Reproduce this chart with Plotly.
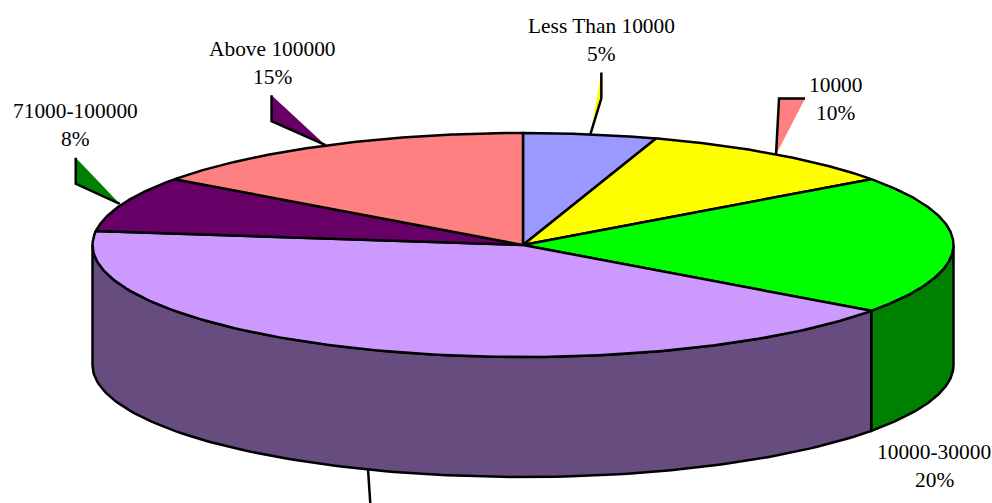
import numpy as np
import plotly.graph_objects as go

categories = ["Less Than 10000", "10000", "10000-30000", "31000-70000", "71000-100000", "Above 100000"]
values = [5, 10, 20, 42, 8, 15]
top_colors = ["#9999FF", "#FFFF00", "#00FF00", "#CC99FF", "#660066", "#FF8080"]
wall_colors = ["#4C4C7F", "#7F7F00", "#008000", "#664C7F", "#330033", "#7F4040"]

W, H = 992, 503
CX, CY, RX, RY, DEPTH = 523, 245, 430.5, 112, 120
LW = 2.5


def rim(deg, drop=0.0):
    t = np.radians(deg)
    return CX + RX * np.sin(t), CY - RY * np.cos(t) + drop


fig = go.Figure()


def poly(xs, ys, fill=None, line=True):
    fig.add_trace(go.Scatter(
        x=list(xs), y=list(ys), mode="lines",
        fill="toself" if fill else None,
        fillcolor=fill,
        line=dict(color="black" if line else "rgba(0,0,0,0)", width=LW if line else 0),
        hoverinfo="skip", showlegend=False))


total = sum(values)
edges = np.concatenate([[0], np.cumsum(values)]) / total * 360

# side walls: the front half of the drum only
for i in range(len(values)):
    a, b = max(edges[i], 90), min(edges[i + 1], 270)
    if a >= b:
        continue
    t = np.linspace(a, b, 120)
    x1, y1 = rim(t)
    x2, y2 = rim(t[::-1], DEPTH)
    poly(np.r_[x1, x2, x1[0]], np.r_[y1, y2, y1[0]], wall_colors[i])

# top sectors
for i in range(len(values)):
    t = np.linspace(edges[i], edges[i + 1], 160)
    x, y = rim(t)
    poly(np.r_[CX, x, CX], np.r_[CY, y, CY], top_colors[i])

# callouts: category index -> (anchor nudge, elbow offset, tip offset, fill, drop)
callouts = {
    0: ((0, 0), (11, -36), (11, -62), "#FFFF00", 0),
    1: ((0, 0), (3, -56), (29, -56), "#FF8080", 0),
    3: ((3.5, 0), (1, 20), (3, 45), None, DEPTH),
    4: ((-3, 0), (-44, -20), (-44, -46), "#008000", 0),
    5: ((-2, 0), (-54, -24), (-54, -50), "#660066", 0),
}
for i, (nudge, elbow, tip, fill, drop) in callouts.items():
    ax, ay = rim((edges[i] + edges[i + 1]) / 2, drop)
    ax, ay = ax + nudge[0], ay + nudge[1]
    ex, ey = ax + elbow[0], ay + elbow[1]
    tx, ty = ax + tip[0], ay + tip[1]
    if fill:
        poly([ax, tx, ex, ax], [ay, ty, ey, ay], fill, line=False)
    poly([ax, ex, tx], [ay, ey, ty])

# label text: category index -> (x, y of first line)
label_pos = {0: (601, 26), 1: (835, 85), 2: (934, 452), 4: (75, 111), 5: (272, 49)}
for i, (lx, ly) in label_pos.items():
    for k, txt in enumerate([categories[i], f"{values[i]}%"]):
        fig.add_annotation(x=lx, y=ly + k * 28, text=txt, showarrow=False,
                           xanchor="center", yanchor="middle",
                           font=dict(family="Liberation Serif", size=21.4, color="black"))

fig.update_xaxes(range=[0, W], visible=False, fixedrange=True)
fig.update_yaxes(range=[H, 0], visible=False, fixedrange=True)
fig.update_layout(width=W, height=H, margin=dict(l=0, r=0, t=0, b=0),
                  paper_bgcolor="white", plot_bgcolor="white", showlegend=False)
fig.write_html("out.html", config={"displayModeBar": False},
               post_script="document.body.style.margin='0';document.body.style.overflow='hidden';")
